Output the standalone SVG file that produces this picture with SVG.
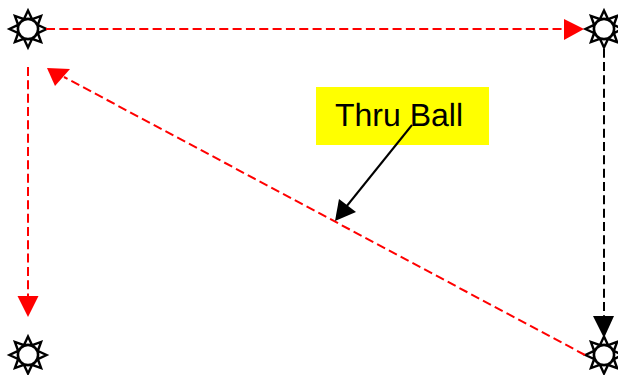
<svg xmlns="http://www.w3.org/2000/svg" xmlns:xlink="http://www.w3.org/1999/xlink" width="618" height="375" viewBox="0 0 618 375">
  <style>
    .red { stroke: #ff0000; stroke-width: 2; stroke-dasharray: 9 4.33; fill: none; }
    .blk { stroke: #000; stroke-width: 2; stroke-dasharray: 9 4.33; fill: none; }
    .solid { stroke: #000; stroke-width: 2; fill: none; }
    .ray { fill: #fff; stroke: #000; stroke-width: 2.4; stroke-linejoin: miter; }
    .disc { fill: #fff; stroke: #000; stroke-width: 2.4; }
    .lbl { font-family: "Liberation Sans", Arial, sans-serif; font-size: 32px; fill: #000; text-rendering: geometricPrecision; }
  </style>
  <defs>
    <g id="sun">
      <polygon class="ray" points="-4,-10 0,-18.5 4,-10"/>
      <polygon class="ray" points="-4,-10 0,-18.5 4,-10" transform="rotate(45)"/>
      <polygon class="ray" points="-4,-10 0,-18.5 4,-10" transform="rotate(90)"/>
      <polygon class="ray" points="-4,-10 0,-18.5 4,-10" transform="rotate(135)"/>
      <polygon class="ray" points="-4,-10 0,-18.5 4,-10" transform="rotate(180)"/>
      <polygon class="ray" points="-4,-10 0,-18.5 4,-10" transform="rotate(225)"/>
      <polygon class="ray" points="-4,-10 0,-18.5 4,-10" transform="rotate(270)"/>
      <polygon class="ray" points="-4,-10 0,-18.5 4,-10" transform="rotate(315)"/>
      <circle class="disc" r="10"/>
    </g>
  </defs>
  <g id="player-top-left"><use xlink:href="#sun" href="#sun" x="28" y="29"/></g>
  <g id="player-top-right"><use xlink:href="#sun" href="#sun" x="604" y="29"/></g>
  <g id="player-bottom-left"><use xlink:href="#sun" href="#sun" x="28" y="355"/></g>
  <g id="player-bottom-right"><use xlink:href="#sun" href="#sun" x="604" y="355"/></g>
  <g id="label-thru-ball">
    <rect x="316" y="87" width="173" height="58" fill="#ffff00"/>
    <text class="lbl" x="335" y="126">Thru Ball</text>
  </g>
  <g id="connectors">
    <line class="red" x1="46" y1="29" x2="566" y2="29"/>
    <polygon points="584,29 564,19 564,40" fill="#ff0000"/>
    <line class="red" x1="28" y1="67" x2="28" y2="298"/>
    <polygon points="28,317 17.5,296 38.5,296" fill="#ff0000"/>
    <line class="blk" x1="604" y1="48.7" x2="604" y2="318"/>
    <polygon points="604,338 593,316 614,316" fill="#000"/>
    <line class="red" x1="585" y1="355" x2="64" y2="77"/>
    <polygon points="47,68 70,69 55,86" fill="#ff0000"/>
    <line class="solid" x1="412" y1="125" x2="346" y2="207"/>
    <polygon points="335,221 339,199 356,212" fill="#000"/>
  </g>
</svg>
